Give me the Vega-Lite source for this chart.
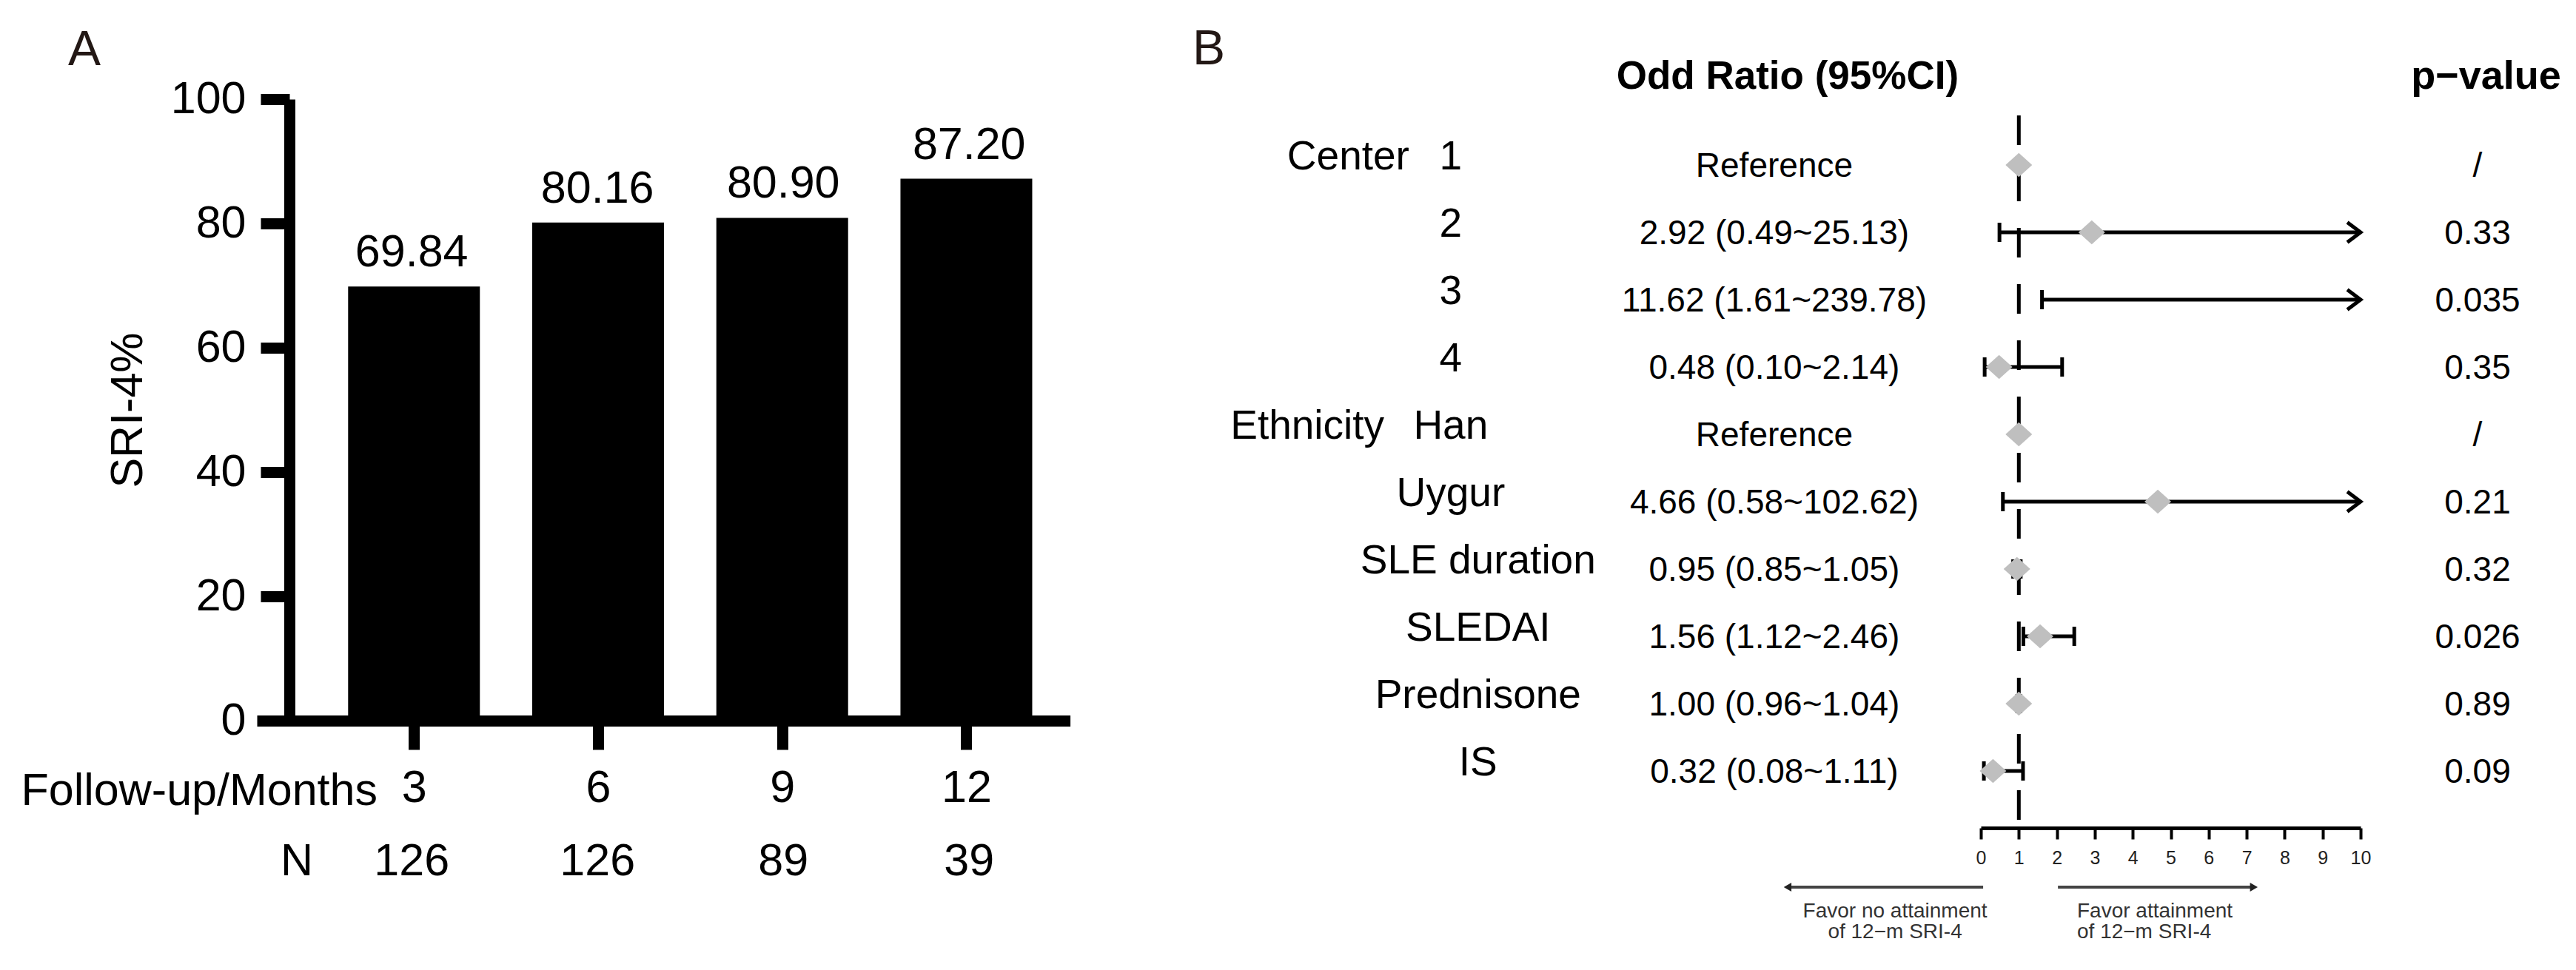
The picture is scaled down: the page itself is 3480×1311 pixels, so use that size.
{
  "$schema": "https://vega.github.io/schema/vega-lite/v6.json",
  "width": 3480,
  "height": 1311,
  "padding": 0,
  "autosize": {"type": "none"},
  "background": "white",
  "config": {"view": {"stroke": null}, "font": "Liberation Sans"},
  "datasets": {
    "sri": [
      {"month": 3, "sri": 69.84, "n": 126},
      {"month": 6, "sri": 80.16, "n": 126},
      {"month": 9, "sri": 80.90, "n": 89},
      {"month": 12, "sri": 87.20, "n": 39}
    ],
    "forest": [
      {"key": "c1", "group": "Center", "kind": "level", "label": "1", "or": 1, "lo": null, "hi": null, "ci": "Reference", "p": "/"},
      {"key": "c2", "group": null, "kind": "level", "label": "2", "or": 2.92, "lo": 0.49, "hi": 25.13, "ci": "2.92 (0.49~25.13)", "p": "0.33"},
      {"key": "c3", "group": null, "kind": "level", "label": "3", "or": 11.62, "lo": 1.61, "hi": 239.78, "ci": "11.62 (1.61~239.78)", "p": "0.035"},
      {"key": "c4", "group": null, "kind": "level", "label": "4", "or": 0.48, "lo": 0.10, "hi": 2.14, "ci": "0.48 (0.10~2.14)", "p": "0.35"},
      {"key": "han", "group": "Ethnicity", "kind": "level", "label": "Han", "or": 1, "lo": null, "hi": null, "ci": "Reference", "p": "/"},
      {"key": "uyg", "group": null, "kind": "level", "label": "Uygur", "or": 4.66, "lo": 0.58, "hi": 102.62, "ci": "4.66 (0.58~102.62)", "p": "0.21"},
      {"key": "dur", "group": null, "kind": "variable", "label": "SLE duration", "or": 0.95, "lo": 0.85, "hi": 1.05, "ci": "0.95 (0.85~1.05)", "p": "0.32"},
      {"key": "sledai", "group": null, "kind": "variable", "label": "SLEDAI", "or": 1.56, "lo": 1.12, "hi": 2.46, "ci": "1.56 (1.12~2.46)", "p": "0.026"},
      {"key": "pred", "group": null, "kind": "variable", "label": "Prednisone", "or": 1.00, "lo": 0.96, "hi": 1.04, "ci": "1.00 (0.96~1.04)", "p": "0.89"},
      {"key": "is", "group": null, "kind": "variable", "label": "IS", "or": 0.32, "lo": 0.08, "hi": 1.11, "ci": "0.32 (0.08~1.11)", "p": "0.09"}
    ]
  },
  "resolve": {"scale": {"x": "independent", "y": "independent"}, "axis": {"x": "independent", "y": "independent"}},
  "layer": [
    {
      "data": {"name": "sri"},
      "mark": {"type": "bar", "width": 178, "color": "black"},
      "encoding": {
        "x": {"field": "month", "type": "quantitative",
          "scale": {"domain": [0.5, 13.63], "range": [347, 1445.6], "nice": false, "zero": false},
          "axis": {"orient": "bottom", "offset": -337, "values": [3, 6, 9, 12], "format": "d", "title": null, "grid": false,
            "domainColor": "black", "domainWidth": 15, "tickColor": "black", "tickWidth": 15, "tickSize": 39,
            "labelFontSize": 61, "labelColor": "black", "labelPadding": 22, "labelFlush": false, "labelOverlap": false}},
        "y": {"field": "sri", "type": "quantitative",
          "scale": {"domain": [0, 100], "range": [974, 134], "nice": false, "zero": false},
          "axis": {"orient": "left", "offset": -391, "values": [0, 20, 40, 60, 80, 100], "title": "SRI-4%",
            "titleFontSize": 61, "titleFontWeight": "normal", "titleColor": "black", "titlePadding": 26, "grid": false,
            "domainColor": "black", "domainWidth": 15, "tickColor": "black", "tickWidth": 15, "tickSize": 39,
            "labelFontSize": 61, "labelColor": "black", "labelPadding": 20, "labelFlush": false}}
      }
    },
    {
      "data": {"name": "sri"},
      "mark": {"type": "text", "fontSize": 61, "baseline": "alphabetic", "dy": -27, "color": "black"},
      "encoding": {
        "x": {"field": "month", "type": "quantitative", "axis": null, "scale": {"domain": [0.5, 13.63], "range": [347, 1445.6], "nice": false, "zero": false}},
        "y": {"field": "sri", "type": "quantitative", "axis": null, "scale": {"domain": [0, 100], "range": [974, 134], "nice": false, "zero": false}},
        "text": {"field": "sri", "type": "quantitative", "format": ".2f"}
      }
    },
    {
      "data": {"name": "sri"},
      "mark": {"type": "text", "fontSize": 61, "baseline": "alphabetic", "color": "black"},
      "encoding": {
        "x": {"field": "month", "type": "quantitative", "axis": null, "scale": {"domain": [0.5, 13.63], "range": [347, 1445.6], "nice": false, "zero": false}},
        "y": {"datum": -24.88, "type": "quantitative", "axis": null, "scale": {"domain": [0, 100], "range": [974, 134], "nice": false, "zero": false}},
        "text": {"field": "n", "type": "nominal"}
      }
    },
    {
      "data": {"values": [{}]},
      "mark": {"type": "text", "fontSize": 61, "baseline": "alphabetic", "color": "black", "text": "N"},
      "encoding": {
        "x": {"datum": 1.145, "type": "quantitative", "axis": null, "scale": {"domain": [0.5, 13.63], "range": [347, 1445.6], "nice": false, "zero": false}},
        "y": {"datum": -24.88, "type": "quantitative", "axis": null, "scale": {"domain": [0, 100], "range": [974, 134], "nice": false, "zero": false}}
      }
    },
    {
      "data": {"values": [{}]},
      "mark": {"type": "text", "fontSize": 61, "baseline": "alphabetic", "align": "right", "color": "black", "text": "Follow-up/Months"},
      "encoding": {
        "x": {"datum": 2.448, "type": "quantitative", "axis": null, "scale": {"domain": [0.5, 13.63], "range": [347, 1445.6], "nice": false, "zero": false}},
        "y": {"datum": -13.57, "type": "quantitative", "axis": null, "scale": {"domain": [0, 100], "range": [974, 134], "nice": false, "zero": false}}
      }
    },
    {
      "data": {"values": [{}]},
      "mark": {"type": "text", "fontSize": 66, "baseline": "alphabetic", "color": "#231815", "text": "A"},
      "encoding": {
        "x": {"datum": -2.285, "type": "quantitative", "axis": null, "scale": {"domain": [0.5, 13.63], "range": [347, 1445.6], "nice": false, "zero": false}},
        "y": {"datum": 105.48, "type": "quantitative", "axis": null, "scale": {"domain": [0, 100], "range": [974, 134], "nice": false, "zero": false}}
      }
    },
    {
      "data": {"values": [{}]},
      "mark": {"type": "text", "fontSize": 66, "baseline": "alphabetic", "color": "#231815", "text": "B"},
      "encoding": {
        "x": {"datum": 15.87, "type": "quantitative", "axis": null, "scale": {"domain": [0.5, 13.63], "range": [347, 1445.6], "nice": false, "zero": false}},
        "y": {"datum": 105.6, "type": "quantitative", "axis": null, "scale": {"domain": [0, 100], "range": [974, 134], "nice": false, "zero": false}}
      }
    },
    {
      "data": {"values": [{}]},
      "mark": {"type": "rule", "strokeDash": [40, 36], "strokeWidth": 5, "color": "black", "yOffset": -67, "y2Offset": -15},
      "encoding": {
        "x": {"datum": 1, "type": "quantitative",
          "scale": {"domain": [0, 10], "range": [2676, 3189], "nice": false, "zero": false},
          "axis": {"orient": "bottom", "offset": -192, "values": [0, 1, 2, 3, 4, 5, 6, 7, 8, 9, 10], "format": "d", "title": null, "grid": false,
            "domainColor": "black", "domainWidth": 5, "tickColor": "black", "tickWidth": 4, "tickSize": 15,
            "labelFontSize": 25, "labelColor": "#222222", "labelPadding": 13, "labelFlush": false, "labelOverlap": false}},
        "y": {"datum": "c1", "type": "nominal", "axis": null,
          "scale": {"type": "point", "domain": ["hdr", "c1", "c2", "c3", "c4", "han", "uyg", "dur", "sledai", "pred", "is", "axis", "favor"], "range": [132, 1224], "padding": 0}},
        "y2": {"datum": "axis"}
      }
    },
    {
      "data": {"name": "forest"},
      "transform": [{"filter": "datum.hi != null && datum.hi <= 10"}],
      "mark": {"type": "rule", "strokeWidth": 5, "color": "black"},
      "encoding": {
        "x": {"field": "lo", "type": "quantitative", "axis": null, "scale": {"domain": [0, 10], "range": [2676, 3189], "nice": false, "zero": false}},
        "x2": {"field": "hi"},
        "y": {"field": "key", "type": "nominal", "axis": null, "scale": {"type": "point", "domain": ["hdr", "c1", "c2", "c3", "c4", "han", "uyg", "dur", "sledai", "pred", "is", "axis", "favor"], "range": [132, 1224], "padding": 0}}
      }
    },
    {
      "data": {"name": "forest"},
      "transform": [{"filter": "datum.hi != null && datum.hi > 10"}],
      "mark": {"type": "rule", "strokeWidth": 5, "color": "black"},
      "encoding": {
        "x": {"field": "lo", "type": "quantitative", "axis": null, "scale": {"domain": [0, 10], "range": [2676, 3189], "nice": false, "zero": false}},
        "x2": {"datum": 10},
        "y": {"field": "key", "type": "nominal", "axis": null, "scale": {"type": "point", "domain": ["hdr", "c1", "c2", "c3", "c4", "han", "uyg", "dur", "sledai", "pred", "is", "axis", "favor"], "range": [132, 1224], "padding": 0}}
      }
    },
    {
      "data": {"name": "forest"},
      "transform": [{"filter": "datum.lo != null"}],
      "mark": {"type": "tick", "size": 26, "thickness": 5, "color": "black", "opacity": 1},
      "encoding": {
        "x": {"field": "lo", "type": "quantitative", "axis": null, "scale": {"domain": [0, 10], "range": [2676, 3189], "nice": false, "zero": false}},
        "y": {"field": "key", "type": "nominal", "axis": null, "scale": {"type": "point", "domain": ["hdr", "c1", "c2", "c3", "c4", "han", "uyg", "dur", "sledai", "pred", "is", "axis", "favor"], "range": [132, 1224], "padding": 0}}
      }
    },
    {
      "data": {"name": "forest"},
      "transform": [{"filter": "datum.hi != null && datum.hi <= 10"}],
      "mark": {"type": "tick", "size": 26, "thickness": 5, "color": "black", "opacity": 1},
      "encoding": {
        "x": {"field": "hi", "type": "quantitative", "axis": null, "scale": {"domain": [0, 10], "range": [2676, 3189], "nice": false, "zero": false}},
        "y": {"field": "key", "type": "nominal", "axis": null, "scale": {"type": "point", "domain": ["hdr", "c1", "c2", "c3", "c4", "han", "uyg", "dur", "sledai", "pred", "is", "axis", "favor"], "range": [132, 1224], "padding": 0}}
      }
    },
    {
      "data": {"name": "forest"},
      "transform": [{"filter": "datum.hi != null && datum.hi > 10"}],
      "mark": {"type": "point", "shape": "M-1.33,-1L0,0L-1.33,1", "size": 729, "filled": false, "stroke": "black", "strokeWidth": 5, "strokeJoin": "miter", "opacity": 1},
      "encoding": {
        "x": {"datum": 10, "type": "quantitative", "axis": null, "scale": {"domain": [0, 10], "range": [2676, 3189], "nice": false, "zero": false}},
        "y": {"field": "key", "type": "nominal", "axis": null, "scale": {"type": "point", "domain": ["hdr", "c1", "c2", "c3", "c4", "han", "uyg", "dur", "sledai", "pred", "is", "axis", "favor"], "range": [132, 1224], "padding": 0}}
      }
    },
    {
      "data": {"name": "forest"},
      "transform": [{"filter": "datum.or <= 10"}],
      "mark": {"type": "point", "shape": "M-1,0L0,-0.9L1,0L0,0.9Z", "size": 1296, "filled": true, "color": "#bfbfbf", "opacity": 1, "strokeWidth": 0},
      "encoding": {
        "x": {"field": "or", "type": "quantitative", "axis": null, "scale": {"domain": [0, 10], "range": [2676, 3189], "nice": false, "zero": false}},
        "y": {"field": "key", "type": "nominal", "axis": null, "scale": {"type": "point", "domain": ["hdr", "c1", "c2", "c3", "c4", "han", "uyg", "dur", "sledai", "pred", "is", "axis", "favor"], "range": [132, 1224], "padding": 0}}
      }
    },
    {
      "data": {"name": "forest"},
      "transform": [{"filter": "datum.kind == 'level'"}],
      "mark": {"type": "text", "fontSize": 55, "baseline": "alphabetic", "align": "center", "dy": 6, "color": "black"},
      "encoding": {
        "x": {"datum": -13.96, "type": "quantitative", "axis": null, "scale": {"domain": [0, 10], "range": [2676, 3189], "nice": false, "zero": false}},
        "y": {"field": "key", "type": "nominal", "axis": null, "scale": {"type": "point", "domain": ["hdr", "c1", "c2", "c3", "c4", "han", "uyg", "dur", "sledai", "pred", "is", "axis", "favor"], "range": [132, 1224], "padding": 0}},
        "text": {"field": "label", "type": "nominal"}
      }
    },
    {
      "data": {"name": "forest"},
      "transform": [{"filter": "datum.kind == 'variable'"}],
      "mark": {"type": "text", "fontSize": 55, "baseline": "alphabetic", "align": "center", "dy": 6, "color": "black"},
      "encoding": {
        "x": {"datum": -13.24, "type": "quantitative", "axis": null, "scale": {"domain": [0, 10], "range": [2676, 3189], "nice": false, "zero": false}},
        "y": {"field": "key", "type": "nominal", "axis": null, "scale": {"type": "point", "domain": ["hdr", "c1", "c2", "c3", "c4", "han", "uyg", "dur", "sledai", "pred", "is", "axis", "favor"], "range": [132, 1224], "padding": 0}},
        "text": {"field": "label", "type": "nominal"}
      }
    },
    {
      "data": {"name": "forest"},
      "transform": [{"filter": "datum.group == 'Center'"}],
      "mark": {"type": "text", "fontSize": 55, "baseline": "alphabetic", "align": "right", "dy": 6, "color": "black"},
      "encoding": {
        "x": {"datum": -15.05, "type": "quantitative", "axis": null, "scale": {"domain": [0, 10], "range": [2676, 3189], "nice": false, "zero": false}},
        "y": {"field": "key", "type": "nominal", "axis": null, "scale": {"type": "point", "domain": ["hdr", "c1", "c2", "c3", "c4", "han", "uyg", "dur", "sledai", "pred", "is", "axis", "favor"], "range": [132, 1224], "padding": 0}},
        "text": {"field": "group", "type": "nominal"}
      }
    },
    {
      "data": {"name": "forest"},
      "transform": [{"filter": "datum.group == 'Ethnicity'"}],
      "mark": {"type": "text", "fontSize": 55, "baseline": "alphabetic", "align": "right", "dy": 6, "color": "black"},
      "encoding": {
        "x": {"datum": -15.71, "type": "quantitative", "axis": null, "scale": {"domain": [0, 10], "range": [2676, 3189], "nice": false, "zero": false}},
        "y": {"field": "key", "type": "nominal", "axis": null, "scale": {"type": "point", "domain": ["hdr", "c1", "c2", "c3", "c4", "han", "uyg", "dur", "sledai", "pred", "is", "axis", "favor"], "range": [132, 1224], "padding": 0}},
        "text": {"field": "group", "type": "nominal"}
      }
    },
    {
      "data": {"name": "forest"},
      "mark": {"type": "text", "fontSize": 46, "baseline": "alphabetic", "align": "center", "dy": 16, "color": "black"},
      "encoding": {
        "x": {"datum": -5.44, "type": "quantitative", "axis": null, "scale": {"domain": [0, 10], "range": [2676, 3189], "nice": false, "zero": false}},
        "y": {"field": "key", "type": "nominal", "axis": null, "scale": {"type": "point", "domain": ["hdr", "c1", "c2", "c3", "c4", "han", "uyg", "dur", "sledai", "pred", "is", "axis", "favor"], "range": [132, 1224], "padding": 0}},
        "text": {"field": "ci", "type": "nominal"}
      }
    },
    {
      "data": {"name": "forest"},
      "mark": {"type": "text", "fontSize": 46, "baseline": "alphabetic", "align": "center", "dy": 16, "color": "black"},
      "encoding": {
        "x": {"datum": 13.08, "type": "quantitative", "axis": null, "scale": {"domain": [0, 10], "range": [2676, 3189], "nice": false, "zero": false}},
        "y": {"field": "key", "type": "nominal", "axis": null, "scale": {"type": "point", "domain": ["hdr", "c1", "c2", "c3", "c4", "han", "uyg", "dur", "sledai", "pred", "is", "axis", "favor"], "range": [132, 1224], "padding": 0}},
        "text": {"field": "p", "type": "nominal"}
      }
    },
    {
      "data": {"values": [{}]},
      "mark": {"type": "text", "fontSize": 53, "fontWeight": "bold", "baseline": "alphabetic", "align": "center", "dy": -12, "color": "black", "text": "Odd Ratio (95%CI)"},
      "encoding": {
        "x": {"datum": -5.09, "type": "quantitative", "axis": null, "scale": {"domain": [0, 10], "range": [2676, 3189], "nice": false, "zero": false}},
        "y": {"datum": "hdr", "type": "nominal", "axis": null, "scale": {"type": "point", "domain": ["hdr", "c1", "c2", "c3", "c4", "han", "uyg", "dur", "sledai", "pred", "is", "axis", "favor"], "range": [132, 1224], "padding": 0}}
      }
    },
    {
      "data": {"values": [{}]},
      "mark": {"type": "text", "fontSize": 54, "fontWeight": "bold", "baseline": "alphabetic", "align": "left", "dy": -12, "color": "black", "text": "p−value"},
      "encoding": {
        "x": {"datum": 11.33, "type": "quantitative", "axis": null, "scale": {"domain": [0, 10], "range": [2676, 3189], "nice": false, "zero": false}},
        "y": {"datum": "hdr", "type": "nominal", "axis": null, "scale": {"type": "point", "domain": ["hdr", "c1", "c2", "c3", "c4", "han", "uyg", "dur", "sledai", "pred", "is", "axis", "favor"], "range": [132, 1224], "padding": 0}}
      }
    },
    {
      "data": {"values": [{}]},
      "mark": {"type": "rule", "strokeWidth": 4, "color": "#444444", "yOffset": -25},
      "encoding": {
        "x": {"datum": -5.09, "type": "quantitative", "axis": null, "scale": {"domain": [0, 10], "range": [2676, 3189], "nice": false, "zero": false}},
        "x2": {"datum": 0.06},
        "y": {"datum": "favor", "type": "nominal", "axis": null, "scale": {"type": "point", "domain": ["hdr", "c1", "c2", "c3", "c4", "han", "uyg", "dur", "sledai", "pred", "is", "axis", "favor"], "range": [132, 1224], "padding": 0}}
      }
    },
    {
      "data": {"values": [{}]},
      "mark": {"type": "rule", "strokeWidth": 4, "color": "#444444", "yOffset": -25},
      "encoding": {
        "x": {"datum": 2.03, "type": "quantitative", "axis": null, "scale": {"domain": [0, 10], "range": [2676, 3189], "nice": false, "zero": false}},
        "x2": {"datum": 7.19},
        "y": {"datum": "favor", "type": "nominal", "axis": null, "scale": {"type": "point", "domain": ["hdr", "c1", "c2", "c3", "c4", "han", "uyg", "dur", "sledai", "pred", "is", "axis", "favor"], "range": [132, 1224], "padding": 0}}
      }
    },
    {
      "data": {"values": [{}]},
      "mark": {"type": "point", "shape": "triangle-left", "size": 144, "filled": true, "color": "#222222", "opacity": 1, "yOffset": -25},
      "encoding": {
        "x": {"datum": -5.09, "type": "quantitative", "axis": null, "scale": {"domain": [0, 10], "range": [2676, 3189], "nice": false, "zero": false}},
        "y": {"datum": "favor", "type": "nominal", "axis": null, "scale": {"type": "point", "domain": ["hdr", "c1", "c2", "c3", "c4", "han", "uyg", "dur", "sledai", "pred", "is", "axis", "favor"], "range": [132, 1224], "padding": 0}}
      }
    },
    {
      "data": {"values": [{}]},
      "mark": {"type": "point", "shape": "triangle-right", "size": 144, "filled": true, "color": "#222222", "opacity": 1, "yOffset": -25},
      "encoding": {
        "x": {"datum": 7.19, "type": "quantitative", "axis": null, "scale": {"domain": [0, 10], "range": [2676, 3189], "nice": false, "zero": false}},
        "y": {"datum": "favor", "type": "nominal", "axis": null, "scale": {"type": "point", "domain": ["hdr", "c1", "c2", "c3", "c4", "han", "uyg", "dur", "sledai", "pred", "is", "axis", "favor"], "range": [132, 1224], "padding": 0}}
      }
    },
    {
      "data": {"values": [{}]},
      "mark": {"type": "text", "fontSize": 28, "baseline": "alphabetic", "align": "center", "dy": 16, "lineHeight": 28, "color": "#333333", "text": ["Favor no attainment", "of 12−m SRI-4"]},
      "encoding": {
        "x": {"datum": -2.26, "type": "quantitative", "axis": null, "scale": {"domain": [0, 10], "range": [2676, 3189], "nice": false, "zero": false}},
        "y": {"datum": "favor", "type": "nominal", "axis": null, "scale": {"type": "point", "domain": ["hdr", "c1", "c2", "c3", "c4", "han", "uyg", "dur", "sledai", "pred", "is", "axis", "favor"], "range": [132, 1224], "padding": 0}}
      }
    },
    {
      "data": {"values": [{}]},
      "mark": {"type": "text", "fontSize": 28, "baseline": "alphabetic", "align": "left", "dy": 16, "lineHeight": 28, "color": "#333333", "text": ["Favor attainment", "of 12−m SRI-4"]},
      "encoding": {
        "x": {"datum": 2.534, "type": "quantitative", "axis": null, "scale": {"domain": [0, 10], "range": [2676, 3189], "nice": false, "zero": false}},
        "y": {"datum": "favor", "type": "nominal", "axis": null, "scale": {"type": "point", "domain": ["hdr", "c1", "c2", "c3", "c4", "han", "uyg", "dur", "sledai", "pred", "is", "axis", "favor"], "range": [132, 1224], "padding": 0}}
      }
    }
  ]
}
